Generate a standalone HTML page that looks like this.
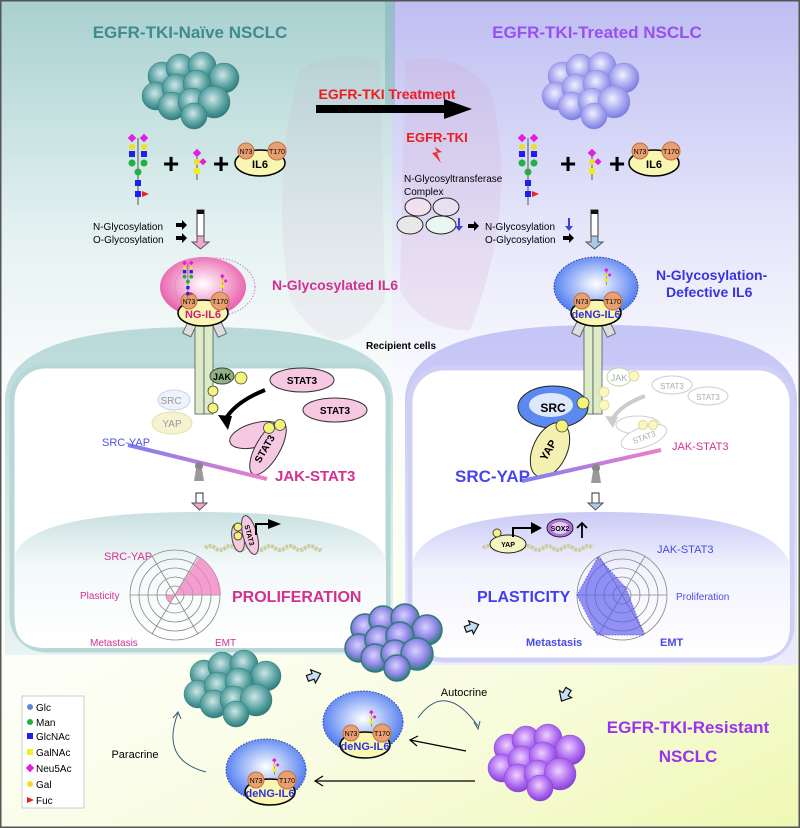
<!DOCTYPE html>
<html><head><meta charset="utf-8"><style>
html,body{margin:0;padding:0;background:#fff}
svg{display:block}
text{font-family:"Liberation Sans",sans-serif}
</style></head><body>
<svg width="800" height="828" viewBox="0 0 800 828" xmlns="http://www.w3.org/2000/svg">
<defs>
<linearGradient id="bgL" x1="0" y1="0" x2="0" y2="1"><stop offset="0" stop-color="#a8d0d0"/><stop offset="0.55" stop-color="#e4f1f1"/><stop offset="1" stop-color="#fff"/></linearGradient>
<linearGradient id="bgR" x1="0" y1="0" x2="0" y2="1"><stop offset="0" stop-color="#bebef2"/><stop offset="0.55" stop-color="#e6e6fb"/><stop offset="1" stop-color="#fff"/></linearGradient>
<linearGradient id="bgY" x1="0" y1="0" x2="1" y2="1"><stop offset="0" stop-color="#fff" stop-opacity="0"/><stop offset="1" stop-color="#eef8b0"/></linearGradient>
<radialGradient id="cT" cx="0.45" cy="0.4" r="0.6"><stop offset="0" stop-color="#cfe6e6"/><stop offset="0.6" stop-color="#5fa6a6"/><stop offset="1" stop-color="#2f7b7b"/></radialGradient>
<radialGradient id="cL" cx="0.45" cy="0.4" r="0.6"><stop offset="0" stop-color="#f0f0ff"/><stop offset="0.6" stop-color="#a8a8f0"/><stop offset="1" stop-color="#7c7ce0"/></radialGradient>
<radialGradient id="cP" cx="0.45" cy="0.4" r="0.6"><stop offset="0" stop-color="#f0d0ff"/><stop offset="0.6" stop-color="#b070f0"/><stop offset="1" stop-color="#8a40d8"/></radialGradient>
<radialGradient id="cM" cx="0.45" cy="0.4" r="0.6"><stop offset="0" stop-color="#d8d0ff"/><stop offset="0.6" stop-color="#8f86e6"/><stop offset="1" stop-color="#2f7b7b"/></radialGradient>
<radialGradient id="pinkB" cx="0.5" cy="0.45" r="0.55"><stop offset="0" stop-color="#fff"/><stop offset="1" stop-color="#e85aa8"/></radialGradient>
<radialGradient id="blueB" cx="0.5" cy="0.45" r="0.55"><stop offset="0" stop-color="#fff"/><stop offset="1" stop-color="#4a78f0"/></radialGradient>
<linearGradient id="cellL" x1="0" y1="0" x2="0" y2="1"><stop offset="0" stop-color="#b9d9d9"/><stop offset="1" stop-color="#e8f3f3"/></linearGradient>
<linearGradient id="cellR" x1="0" y1="0" x2="0" y2="1"><stop offset="0" stop-color="#c4c4f6"/><stop offset="1" stop-color="#ececfc"/></linearGradient>
<linearGradient id="nucL" x1="0" y1="0" x2="0" y2="1"><stop offset="0" stop-color="#c9e0e0"/><stop offset="0.4" stop-color="#f4f9f9"/><stop offset="1" stop-color="#fff"/></linearGradient>
<linearGradient id="nucR" x1="0" y1="0" x2="0" y2="1"><stop offset="0" stop-color="#cacaf6"/><stop offset="0.4" stop-color="#f3f3fe"/><stop offset="1" stop-color="#fff"/></linearGradient>
<linearGradient id="see" x1="0" y1="0" x2="1" y2="0"><stop offset="0" stop-color="#7f7ff0"/><stop offset="1" stop-color="#ee7fc8"/></linearGradient>
<g id="cl">
<circle cx="-32" cy="-12" r="14"/><circle cx="-14" cy="-20" r="14"/><circle cx="8" cy="-22" r="14"/><circle cx="30" cy="-10" r="15"/>
<circle cx="-38" cy="8" r="14"/><circle cx="-18" cy="0" r="14"/><circle cx="3" cy="-4" r="14"/><circle cx="-22" cy="18" r="14"/>
<circle cx="-2" cy="14" r="14"/><circle cx="20" cy="14" r="16"/><circle cx="0" cy="28" r="13"/>
</g>
<g id="il6s">
<line x1="-14" y1="-12" x2="16" y2="-12" stroke="#000" stroke-width="1.5"/>
<ellipse cx="0" cy="0" rx="25" ry="13" fill="#f8f6b0" stroke="#000" stroke-width="1.5"/>
<circle cx="-14" cy="-12" r="8" fill="#e8a070" stroke="#c07040"/><circle cx="17" cy="-12" r="9" fill="#e8a070" stroke="#c07040"/>
<text x="-14" y="-9" font-size="7" text-anchor="middle">N73</text><text x="17" y="-9" font-size="7" text-anchor="middle">T170</text>
</g>
<g id="rec">
<rect x="-10" y="325" width="9" height="89" fill="#dcecc8" stroke="#555" stroke-width="0.8"/><rect x="-1" y="325" width="9" height="89" fill="#dcecc8" stroke="#555" stroke-width="0.8"/>
<rect x="-19" y="318" width="9" height="18" fill="#ddd" stroke="#666" transform="rotate(25 -14 327)"/><rect x="9" y="318" width="9" height="18" fill="#ddd" stroke="#666" transform="rotate(-25 14 327)"/>
</g>
<g id="gly">
<line x1="138" y1="138" x2="138" y2="205" stroke="#555"/>
<rect x="129" y="135" width="6" height="6" fill="#e020e0" transform="rotate(45 132 138)"/><rect x="141" y="135" width="6" height="6" fill="#e020e0" transform="rotate(45 144 138)"/>
<circle cx="132" cy="147" r="3" fill="#f0e020"/><circle cx="144" cy="147" r="3" fill="#f0e020"/>
<rect x="129" y="151" width="6" height="6" fill="#2020ee"/><rect x="141" y="151" width="6" height="6" fill="#2020ee"/>
<circle cx="132" cy="163" r="3.5" fill="#22b040"/><circle cx="144" cy="163" r="3.5" fill="#22b040"/><circle cx="138" cy="172" r="3.5" fill="#22b040"/>
<rect x="135" y="180" width="6" height="6" fill="#2020ee"/><rect x="135" y="191" width="6" height="6" fill="#2020ee"/>
<polygon points="142,191 149,194 142,197" fill="#ee2020"/>
</g>
<g id="sg"><line x1="197" y1="155" x2="197" y2="180" stroke="#555"/><rect x="194" y="150" width="6" height="6" fill="#e020e0" transform="rotate(45 197 153)"/><circle cx="197" cy="162" r="3" fill="#f0e020"/><rect x="201" y="159" width="5" height="5" fill="#e020e0" transform="rotate(45 203 161)"/><rect x="194" y="168" width="6" height="6" fill="#f0f020"/></g>
</defs>
<!-- backgrounds -->
<rect x="0" y="0" width="800" height="828" fill="#fff"/>
<rect x="0" y="0" width="392" height="420" fill="url(#bgL)"/>
<rect x="392" y="0" width="408" height="420" fill="url(#bgR)"/>
<rect x="0" y="420" width="800" height="408" fill="url(#bgY)"/>
<path d="M300 70 Q330 50 380 60 L385 300 Q340 380 290 300 Q270 180 300 70Z" fill="#c9a8c8" opacity="0.12"/>
<path d="M405 60 Q460 50 490 90 Q520 200 470 330 Q420 330 400 290Z" fill="#d0a0c8" opacity="0.18"/>
<rect x="385" y="0" width="10" height="110" fill="#6aa0a8" opacity="0.35"/>
<!-- titles -->
<text x="190" y="38" font-size="17" font-weight="bold" fill="#3f8b8f" text-anchor="middle">EGFR-TKI-Naïve NSCLC</text>
<text x="597" y="38" font-size="17" font-weight="bold" fill="#9b4ef2" text-anchor="middle">EGFR-TKI-Treated NSCLC</text>
<!-- clusters top -->
<use href="#cl" x="194" y="88" fill="url(#cT)" stroke="#2f7b7b" stroke-width="0.5"/>
<use href="#cl" x="594" y="88" fill="url(#cL)" stroke="#8a8ae6" stroke-width="0.5"/>
<!-- treatment arrow -->
<text x="387" y="99" font-size="14" font-weight="bold" fill="#ee1c1c" text-anchor="middle">EGFR-TKI Treatment</text>
<rect x="316" y="105" width="130" height="8" fill="#000"/><polygon points="444,99 472,109 444,119" fill="#000"/>
<text x="437" y="142" font-size="13" font-weight="bold" fill="#ee1c1c" text-anchor="middle">EGFR-TKI</text>
<polygon points="435,147 442,152 437,153 441,163 432,153 437,152" fill="#e33"/>
<!-- glycans -->
<use href="#gly"/>
<use href="#gly" x="390" y="0"/>
<text x="171" y="173" font-size="28" font-weight="bold" text-anchor="middle">+</text>
<text x="221" y="173" font-size="28" font-weight="bold" text-anchor="middle">+</text>
<text x="568" y="173" font-size="28" font-weight="bold" text-anchor="middle">+</text>
<text x="617" y="173" font-size="28" font-weight="bold" text-anchor="middle">+</text>
<use href="#sg"/>
<use href="#sg" x="395" y="0"/>
<use href="#il6s" x="260" y="163"/>
<text x="260" y="168" font-size="11" font-weight="bold" text-anchor="middle">IL6</text>
<use href="#il6s" x="654" y="163"/>
<text x="654" y="168" font-size="11" font-weight="bold" text-anchor="middle">IL6</text>
<!-- glycosylation left -->
<text x="93" y="230" font-size="10">N-Glycosylation</text><text x="93" y="243" font-size="10">O-Glycosylation</text>
<path d="M176 223h6v-3l5 5-5 5v-3h-6z"/><path d="M176 236h6v-3l5 5-5 5v-3h-6z"/>
<rect x="197" y="210" width="7" height="26" fill="#fff" stroke="#333"/><rect x="197" y="210" width="7" height="4" fill="#111"/>
<path d="M197 236 v6 h-5 l8.5 7 l8.5 -7 h-5 v-6z" fill="#f0a8d0" stroke="#555"/>
<!-- right glycosylation -->
<text x="404" y="182" font-size="10">N-Glycosyltransferase</text><text x="404" y="195" font-size="10">Complex</text>
<ellipse cx="418" cy="207" rx="13" ry="9" fill="#f0e0f0" stroke="#222"/><ellipse cx="446" cy="207" rx="13" ry="9" fill="#e8e0f0" stroke="#222"/>
<ellipse cx="410" cy="225" rx="13" ry="9" fill="#e8e8e8" stroke="#222"/><ellipse cx="441" cy="225" rx="15" ry="9" fill="#e8f8f0" stroke="#222"/>
<path d="M458 218v8h-3l4 5 4-5h-3v-8z" fill="#4040e0"/>
<path d="M468 224h6v-3l5 5-5 5v-3h-6z"/>
<text x="485" y="230" font-size="10">N-Glycosylation</text><text x="485" y="243" font-size="10">O-Glycosylation</text>
<path d="M568 218v8h-3l4 5 4-5h-3v-8z" fill="#4040e0"/>
<path d="M563 236h6v-3l5 5-5 5v-3h-6z"/>
<rect x="591" y="210" width="7" height="26" fill="#fff" stroke="#333"/><rect x="591" y="210" width="7" height="4" fill="#111"/>
<path d="M591 236 v6 h-5 l8.5 7 l8.5 -7 h-5 v-6z" fill="#a8c8ec" stroke="#555"/>
<!-- cell bodies -->
<path d="M5 400 Q5 327 200 327 Q393 327 393 400 L393 655 L5 655Z" fill="url(#cellL)"/>
<path d="M405 400 Q405 325 600 325 Q797 325 797 400 L797 665 L405 665Z" fill="url(#cellR)"/>
<rect x="12" y="366" width="376" height="284" rx="34" fill="#fff" stroke="#b8d8d8" stroke-width="5"/>
<rect x="410" y="368" width="382" height="292" rx="34" fill="#fff" stroke="#d0d0f6" stroke-width="5"/>
<path d="M15 555 Q30 512 200 512 Q372 512 386 560 L386 620 Q386 648 355 648 L45 648 Q15 648 15 620Z" fill="url(#nucL)"/>
<path d="M413 560 Q430 512 600 512 Q775 512 790 565 L790 625 Q790 657 760 657 L445 657 Q413 657 413 625Z" fill="url(#nucR)"/>
<text x="401" y="349" font-size="10" font-weight="bold" text-anchor="middle">Recipient cells</text>
<!-- IL6 receptor complexes -->
<use href="#rec" x="205" y="0"/>
<use href="#rec" x="594" y="0"/>
<ellipse cx="203" cy="287" rx="43" ry="30" fill="url(#pinkB)"/>
<ellipse cx="215" cy="287" rx="40" ry="29" fill="none" stroke="#d080c0" stroke-dasharray="1.5 1.5"/>
<ellipse cx="596" cy="287" rx="42" ry="30" fill="url(#blueB)" stroke="#2a40a0" stroke-dasharray="1.5 1.5"/>
<use href="#il6s" x="203" y="313"/>
<text x="203" y="318" font-size="11" font-weight="bold" fill="#d0207a" text-anchor="middle">NG-IL6</text>
<use href="#il6s" x="596" y="313"/>
<text x="596" y="318" font-size="11" font-weight="bold" fill="#3030e0" text-anchor="middle">deNG-IL6</text>
<g transform="translate(112,187) scale(0.55)"><use href="#gly"/></g>
<g transform="translate(114,192) scale(0.55)"><use href="#sg"/></g>
<g transform="translate(498,186) scale(0.55)"><use href="#sg"/></g>
<text x="272" y="290" font-size="14" font-weight="bold" fill="#d33090">N-Glycosylated IL6</text>
<text x="656" y="280" font-size="14" font-weight="bold" fill="#3434e4">N-Glycosylation-</text>
<text x="666" y="297" font-size="14" font-weight="bold" fill="#3434e4">Defective IL6</text>
<!-- left signaling -->
<ellipse cx="222" cy="376" rx="12" ry="8" fill="#8fb080" stroke="#444"/><text x="222" y="380" font-size="9" font-weight="bold" text-anchor="middle">JAK</text>
<g fill="#f4f47a" stroke="#444" stroke-width="0.8">
<circle cx="241" cy="378" r="6"/><circle cx="213" cy="391" r="5"/><circle cx="213" cy="408" r="5"/>
</g>
<ellipse cx="174" cy="400" rx="16" ry="10" fill="#eef2fa" stroke="#c8d4ea"/><text x="171" y="404" font-size="10" fill="#999" text-anchor="middle">SRC</text>
<ellipse cx="172" cy="423" rx="20" ry="11" fill="#f6f4d0" stroke="#e4e0a4"/><text x="172" y="427" font-size="10" fill="#999" text-anchor="middle">YAP</text>
<ellipse cx="302" cy="380" rx="32" ry="12" fill="#f6c8e2" stroke="#333"/><text x="302" y="384" font-size="10" font-weight="bold" text-anchor="middle">STAT3</text>
<ellipse cx="335" cy="410" rx="32" ry="12" fill="#f6c8e2" stroke="#333"/><text x="335" y="414" font-size="10" font-weight="bold" text-anchor="middle">STAT3</text>
<path d="M265 390 Q235 402 225 420" fill="none" stroke="#000" stroke-width="4"/><polygon points="218,415 228,430 232,416" fill="#000"/>
<ellipse cx="256" cy="435" rx="27" ry="12" fill="#f6c8e2" stroke="#333" transform="rotate(-15 256 435)"/>
<ellipse cx="268" cy="448" rx="30" ry="12" fill="#f6c8e2" stroke="#333" transform="rotate(-60 268 448)"/>
<text x="265" y="452" font-size="10" font-weight="bold" text-anchor="middle" transform="rotate(-60 265 449)">STAT3</text>
<g fill="#f4f47a" stroke="#444" stroke-width="0.8"><circle cx="269" cy="428" r="5.5"/><circle cx="280" cy="425" r="5.5"/></g>
<line x1="128" y1="445" x2="267" y2="479" stroke="url(#see)" stroke-width="4"/>
<circle cx="199" cy="466" r="4" fill="#888"/><polygon points="196,469 202,469 204,481 194,481" fill="#999"/>
<text x="102" y="446" font-size="11" fill="#5050e8">SRC-YAP</text>
<text x="275" y="481" font-size="15" font-weight="bold" fill="#d33090">JAK-STAT3</text>
<rect x="196" y="493" width="7" height="10" fill="#fff" stroke="#333"/><path d="M196 503h-4l7.5 7 7.5-7h-4z" fill="#f0a8d0" stroke="#555"/>
<!-- DNA left -->
<path d="M205 548 q5 -4 10 0 t10 0 t10 0 t10 0 t10 0 t10 0 t10 0 t10 0 t10 0 t10 0 t10 0 t5 0" fill="none" stroke="#cccca0" stroke-width="4" stroke-dasharray="3 1"/>
<ellipse cx="238" cy="538" rx="6" ry="14" fill="#f6c8e2" stroke="#444" transform="rotate(-10 238 538)"/>
<ellipse cx="250" cy="535" rx="7" ry="20" fill="#f6c8e2" stroke="#444" transform="rotate(-15 250 535)"/>
<text x="250" y="538" font-size="7" font-weight="bold" transform="rotate(75 250 535)" text-anchor="middle">STAT3</text>
<circle cx="238" cy="527" r="4" fill="#f4f47a" stroke="#444"/><circle cx="238" cy="536" r="4" fill="#f4f47a" stroke="#444"/>
<path d="M256 535 v-11 h14" fill="none" stroke="#000" stroke-width="2"/><polygon points="268,519 281,524 268,529"/>
<!-- left radar -->
<g fill="none" stroke="#888" stroke-width="0.8">
<circle cx="175" cy="595" r="45"/><circle cx="175" cy="595" r="36"/><circle cx="175" cy="595" r="27"/><circle cx="175" cy="595" r="18"/><circle cx="175" cy="595" r="9"/>
<line x1="130" y1="595" x2="220" y2="595"/><line x1="152" y1="556" x2="198" y2="634"/><line x1="152" y1="634" x2="198" y2="556"/>
</g>
<path d="M175 595 L199 557 A45 45 0 0 1 221 595 Z M175 595 L166 595 L170 604 Z" fill="#f080c0" opacity="0.75"/>
<text x="104" y="560" font-size="11" fill="#d33090">SRC-YAP</text>
<text x="80" y="599" font-size="10" fill="#d33090">Plasticity</text>
<text x="90" y="646" font-size="10" fill="#d33090">Metastasis</text>
<text x="215" y="646" font-size="10" fill="#d33090">EMT</text>
<text x="232" y="602" font-size="16" font-weight="bold" fill="#d33090">PROLIFERATION</text>
<!-- right signaling -->
<ellipse cx="619" cy="377" rx="12" ry="9" fill="#fff" stroke="#b8d8a0"/><text x="619" y="381" font-size="9" fill="#aaa" text-anchor="middle">JAK</text>
<g fill="#f8f8c0" stroke="#d8d890" stroke-width="0.8"><circle cx="634" cy="376" r="5"/><circle cx="604" cy="392" r="5"/><circle cx="604" cy="405" r="5"/></g>
<ellipse cx="672" cy="385" rx="20" ry="9" fill="#fff" stroke="#d8c8d0"/><text x="672" y="389" font-size="8" fill="#aaa" text-anchor="middle">STAT3</text>
<ellipse cx="708" cy="396" rx="20" ry="9" fill="#fff" stroke="#d8c8d0"/><text x="708" y="400" font-size="8" fill="#aaa" text-anchor="middle">STAT3</text>
<path d="M645 396 Q620 405 612 420" fill="none" stroke="#ccc" stroke-width="4"/><polygon points="605,416 613,428 618,417" fill="#ccc"/>
<ellipse cx="638" cy="425" rx="22" ry="9" fill="#fff" stroke="#d8c8d0"/>
<ellipse cx="644" cy="437" rx="24" ry="10" fill="#fff" stroke="#d8c8d0" transform="rotate(-20 644 437)"/>
<text x="644" y="440" font-size="8" fill="#aaa" text-anchor="middle" transform="rotate(-20 644 437)">STAT3</text>
<g fill="#f8f8c0" stroke="#d8d890"><circle cx="643" cy="425" r="4.5"/><circle cx="653" cy="425" r="4.5"/></g>
<ellipse cx="553" cy="407" rx="35" ry="21" fill="#5a8af0" stroke="#222"/>
<ellipse cx="551" cy="405" rx="22" ry="12" fill="#dde8fc"/>
<text x="553" y="412" font-size="12" font-weight="bold" text-anchor="middle">SRC</text>
<ellipse cx="550" cy="450" rx="17" ry="29" fill="#f4f0b0" stroke="#222" transform="rotate(25 550 450)"/>
<text x="548" y="454" font-size="11" font-weight="bold" text-anchor="middle" transform="rotate(-60 548 450)">YAP</text>
<g fill="#f4f47a" stroke="#444" stroke-width="0.8"><circle cx="583" cy="403" r="6"/><circle cx="562" cy="426" r="6"/></g>
<line x1="522" y1="481" x2="661" y2="450" stroke="url(#see)" stroke-width="4"/>
<circle cx="596" cy="468" r="4" fill="#888"/><polygon points="593,471 599,471 601,483 591,483" fill="#999"/>
<text x="455" y="482" font-size="17" font-weight="bold" fill="#4646ec">SRC-YAP</text>
<text x="672" y="450" font-size="11" fill="#d33090">JAK-STAT3</text>
<rect x="592" y="493" width="7" height="10" fill="#fff" stroke="#333"/><path d="M592 503h-4l7.5 7 7.5-7h-4z" fill="#a8c8ec" stroke="#555"/>
<!-- right DNA -->
<path d="M483 548 q5 -4 10 0 t10 0 t10 0 t10 0 t10 0 t10 0 t10 0 t10 0 t10 0 t10 0 t10 0" fill="none" stroke="#cccca0" stroke-width="4" stroke-dasharray="3 1"/>
<ellipse cx="508" cy="544" rx="18" ry="9" fill="#f6f4c0" stroke="#222"/><text x="508" y="547" font-size="7" font-weight="bold" text-anchor="middle">YAP</text>
<circle cx="497" cy="533" r="4" fill="#f4f47a" stroke="#444"/>
<path d="M513 537 v-9 h20" fill="none" stroke="#000" stroke-width="2"/><polygon points="531,522 542,528 531,534"/>
<ellipse cx="560" cy="528" rx="13" ry="9" fill="#b070e0" stroke="#222"/><ellipse cx="560" cy="528" rx="9" ry="6" fill="#e4ccf4"/><text x="560" y="531" font-size="7" font-weight="bold" text-anchor="middle">SOX2</text>
<path d="M582 538 v-14 M577 528 l5 -5 l5 5" stroke="#000" stroke-width="1.8" fill="none"/>
<!-- right radar -->
<g fill="none" stroke="#888" stroke-width="0.8">
<circle cx="622" cy="595" r="45"/><circle cx="622" cy="595" r="36"/><circle cx="622" cy="595" r="27"/><circle cx="622" cy="595" r="18"/><circle cx="622" cy="595" r="9"/>
<line x1="577" y1="595" x2="667" y2="595"/><line x1="599" y1="556" x2="645" y2="634"/><line x1="599" y1="634" x2="645" y2="556"/>
</g>
<polygon points="598,557 626,588 644,635 597,635 577,595" fill="#5a5af0" opacity="0.65" stroke="#2020e0" stroke-dasharray="1.5 1.5"/>
<text x="657" y="553" font-size="11" fill="#4a4aea">JAK-STAT3</text>
<text x="477" y="602" font-size="16" font-weight="bold" fill="#4040ee">PLASTICITY</text>
<text x="676" y="600" font-size="10" fill="#4a4aea">Proliferation</text>
<text x="526" y="646" font-size="11" font-weight="bold" fill="#4a4aea">Metastasis</text>
<text x="660" y="646" font-size="11" font-weight="bold" fill="#4a4aea">EMT</text>
<!-- bottom clusters -->
<use href="#cl" x="397" y="640" fill="url(#cM)" stroke="#2f7b7b" stroke-width="1.5"/>
<use href="#cl" x="236" y="686" fill="url(#cT)" stroke="#2f7b7b" stroke-width="0.5"/>
<use href="#cl" x="540" y="760" fill="url(#cP)" stroke="#8a40d8" stroke-width="0.5"/>
<g fill="#c8dcf4" stroke="#111" stroke-width="1.2">
<path d="M465 624 l6 0 l0 -4 l8 7 l-8 7 l0 -4 l-6 0z" transform="rotate(-20 472 627)"/>
<path d="M307 673 l6 0 l0 -4 l8 7 l-8 7 l0 -4 l-6 0z" transform="rotate(-20 314 676)"/>
<path d="M558 692 l6 0 l0 -4 l8 7 l-8 7 l0 -4 l-6 0z" transform="rotate(120 565 695)"/>
</g>
<!-- deNG-IL6 bottom -->
<ellipse cx="363" cy="722" rx="40" ry="31" fill="url(#blueB)" stroke="#2a40a0" stroke-dasharray="1.5 1.5"/>
<use href="#il6s" x="365" y="745"/><text x="365" y="750" font-size="11" font-weight="bold" fill="#3030e0" text-anchor="middle">deNG-IL6</text>
<ellipse cx="266" cy="770" rx="40" ry="31" fill="url(#blueB)" stroke="#2a40a0" stroke-dasharray="1.5 1.5"/>
<use href="#il6s" x="270" y="792"/><text x="270" y="797" font-size="11" font-weight="bold" fill="#3030e0" text-anchor="middle">deNG-IL6</text>
<g transform="translate(263,628) scale(0.55)"><use href="#sg"/></g>
<g transform="translate(166,676) scale(0.55)"><use href="#sg"/></g>
<text x="464" y="696" font-size="11" text-anchor="middle">Autocrine</text>
<text x="135" y="758" font-size="11" text-anchor="middle">Paracrine</text>
<g fill="none" stroke="#3a5a7a" stroke-width="1">
<path d="M418 718 Q445 680 478 726"/><path d="M474 722 l4 7 l2 -8"/>
<path d="M206 772 Q160 760 178 713"/><path d="M173 718 l5 -6 l3 7"/>
</g>
<g fill="none" stroke="#000" stroke-width="1.2">
<line x1="466" y1="751" x2="410" y2="740"/><path d="M418 736 l-8 4 l7 6"/>
<line x1="475" y1="781" x2="315" y2="781"/><path d="M323 776 l-8 5 l8 5"/>
</g>
<text x="688" y="733" font-size="17" font-weight="bold" fill="#9933ee" text-anchor="middle">EGFR-TKI-Resistant</text>
<text x="688" y="762" font-size="17" font-weight="bold" fill="#9933ee" text-anchor="middle">NSCLC</text>
<!-- legend -->
<rect x="22" y="696" width="62" height="112" fill="#fff" stroke="#ccc"/>
<g font-size="10">
<circle cx="30" cy="707" r="3" fill="#5a8ad8"/><text x="36" y="711">Glc</text>
<circle cx="30" cy="722" r="3" fill="#22b040"/><text x="36" y="726">Man</text>
<rect x="27" y="733" width="6" height="6" fill="#2020ee"/><text x="36" y="740">GlcNAc</text>
<rect x="27" y="749" width="6" height="6" fill="#f0f020"/><text x="36" y="756">GalNAc</text>
<rect x="27" y="765" width="6" height="6" fill="#e020e0" transform="rotate(45 30 768)"/><text x="36" y="772">Neu5Ac</text>
<circle cx="30" cy="784" r="3" fill="#f0e020"/><text x="36" y="788">Gal</text>
<polygon points="27,797 34,800 27,803" fill="#ee2020"/><text x="36" y="804">Fuc</text>
</g>
<rect x="0.75" y="0.75" width="798.5" height="826.5" fill="none" stroke="#555" stroke-width="1.5"/>
</svg>
</body></html>
